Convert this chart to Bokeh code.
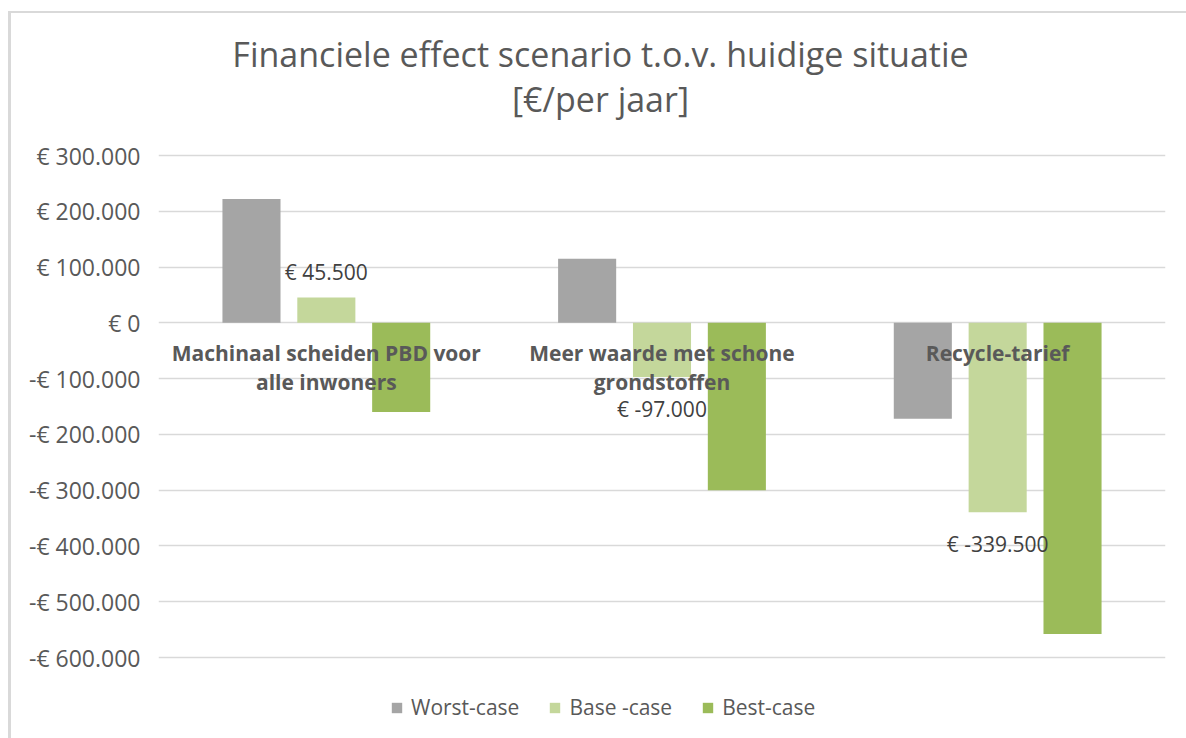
from bokeh.plotting import figure
from bokeh.models import ColumnDataSource, FactorRange, FixedTicker, Label, Legend, LegendItem
from bokeh.transform import dodge
from bokeh.core.properties import value
from bokeh.embed import file_html
from bokeh.resources import INLINE

# ---- data ----
categories = ["Machinaal scheiden PBD voor alle inwoners",
              "Meer waarde met schone grondstoffen",
              "Recycle-tarief"]
category_labels = ["Machinaal scheiden PBD voor\nalle inwoners",
                   "Meer waarde met schone\ngrondstoffen",
                   "Recycle-tarief"]
series_names = ["Worst-case", "Base -case", "Best-case"]
worst_case = [222000, 115000, -172000]
base_case = [45500, -97000, -339500]
best_case = [-160000, -300000, -558000]
y_ticks = [300000, 200000, 100000, 0, -100000, -200000, -300000, -400000, -500000, -600000]
y_tick_labels = ["€ 300.000", "€ 200.000", "€ 100.000", "€ 0", "-€ 100.000", "-€ 200.000",
                 "-€ 300.000", "-€ 400.000", "-€ 500.000", "-€ 600.000"]
title_lines = ["Financiele effect scenario t.o.v. huidige situatie", "[€/per jaar]"]

colors = ["#A5A5A5", "#C4D79B", "#9BBB59"]
FONT = "Open Sans"
TXT = "#595959"

def fmt(v):
    return "€ " + f"{v:,.0f}".replace(",", ".")

src = ColumnDataSource(dict(
    cat=categories,
    catlabel=category_labels,
    zero=[0] * len(categories),
    worst=worst_case,
    base=base_case,
    best=best_case,
    base_label=[fmt(v) for v in base_case],
    base_off=[-25 if v > 0 else 32 for v in base_case],
))

# the plot frame spans the full height so that title and legend can live inside it;
# the fixed ticker keeps gridlines between 300.000 and -600.000 only
p = figure(width=1186, height=738, output_backend="svg", toolbar_location=None,
           x_range=FactorRange(*categories, range_padding=0),
           y_range=(-745200, 577900),
           min_border_left=158, min_border_right=21, min_border_top=0, min_border_bottom=0)
p.outline_line_color = None
p.background_fill_color = None
p.border_fill_color = None
p.styles = {
    "background": "linear-gradient(#D9D9D9,#D9D9D9) 8px 11px / 3px 100% no-repeat, "
                  "linear-gradient(#D9D9D9,#D9D9D9) 8px 11px / 100% 2px no-repeat, #FFFFFF",
}

bw = 0.173
off = 0.223
keys = ["worst", "base", "best"]
renderers = []
for i, k in enumerate(keys):
    r = p.vbar(x=dodge("cat", (i - 1) * off, range=p.x_range), top=k, bottom=0, width=bw,
               source=src, fill_color=colors[i], line_color=None)
    renderers.append(r)

# data labels on base-case
p.text(x=dodge("cat", 0, range=p.x_range), y="base", text="base_label", source=src,
       y_offset="base_off", text_align="center", text_baseline="middle",
       text_font=value(FONT), text_font_size="21px", text_color="#404040")

# category labels at zero line
p.text(x="cat", y="zero", text="catlabel", source=src, y_offset=16,
       text_align="center", text_baseline="top", text_line_height=1.05,
       text_font=value(FONT), text_font_style="bold", text_font_size="21px", text_color=TXT)

# axes
p.xaxis.visible = False
p.xgrid.visible = False
p.yaxis.ticker = FixedTicker(ticks=y_ticks)
p.yaxis.major_label_overrides = {t: l for t, l in zip(y_ticks, y_tick_labels)}
p.yaxis.axis_line_color = None
p.yaxis.major_tick_line_color = None
p.yaxis.minor_tick_line_color = None
p.yaxis.major_tick_in = 0
p.yaxis.major_tick_out = 0
p.yaxis.major_label_standoff = 18
p.yaxis.major_label_text_font = FONT
p.yaxis.major_label_text_font_size = "23px"
p.yaxis.major_label_text_color = TXT
p.ygrid.grid_line_color = "#D9D9D9"
p.ygrid.grid_line_width = 1.5

# title (two centred lines)
for txt, y in zip(title_lines, [685, 640]):
    p.add_layout(Label(x=442, y=y, x_units="screen", y_units="screen", text=txt,
                       text_align="center", text_baseline="alphabetic", text_font=FONT,
                       text_font_size="34px", text_color=TXT))

legend = Legend(items=[LegendItem(label=n, renderers=[r]) for n, r in zip(series_names, renderers)],
                orientation="horizontal", location=(232, 17), padding=0, margin=0,
                spacing=29, label_standoff=8, glyph_width=13, glyph_height=13,
                border_line_color=None, background_fill_alpha=0,
                label_text_font=FONT, label_text_font_size="21px", label_text_color=TXT)
p.add_layout(legend)

open("out.html", "w").write(file_html(p, INLINE))
